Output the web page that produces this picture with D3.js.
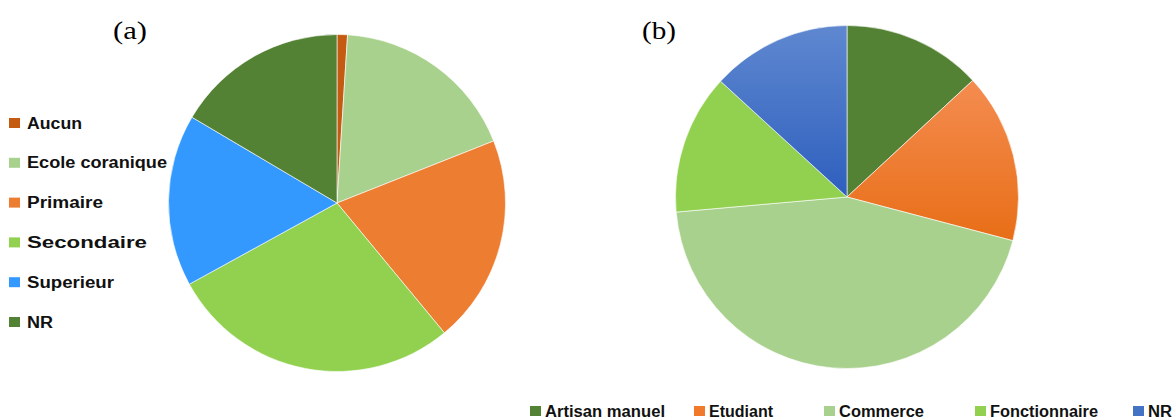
<!DOCTYPE html>
<html><head><meta charset="utf-8">
<script src="https://cdn.jsdelivr.net/npm/d3@7"></script>
<style>html,body{margin:0;padding:0;background:#fff;}svg{display:block;}</style>
</head><body>
<script>
// Data
const catsA = ["Aucun","Ecole coranique","Primaire","Secondaire","Superieur","NR"];
const valsA = [1, 18, 20, 28, 16.5, 16.5];
const colorsA = ["#C55A11","#A9D18E","#ED7D31","#92D050","#3399FF","#548235"];

const catsB = ["Artisan manuel","Etudiant","Commerce","Fonctionnaire","NR"];
const valsB = [13.1, 16, 44.5, 13.2, 13.2];
const colorsB = ["#548235","url(#gOrange)","#A9D18E","#92D050","url(#gBlue)"];
const legendColorsB = ["#548235","#F07A2A","#A9D18E","#92D050","#4472C4"];

const titles = ["(a)","(b)"];

const W = 1172, H = 419;
const svg = d3.select("body").append("svg").attr("width", W).attr("height", H);

const defs = svg.append("defs");
function grad(id, c1, c2){
  const g = defs.append("linearGradient").attr("id", id).attr("x1",0).attr("y1",0).attr("x2",0).attr("y2",1);
  g.append("stop").attr("offset","0%").attr("stop-color",c1);
  g.append("stop").attr("offset","100%").attr("stop-color",c2);
}
grad("gOrange","#F48C50","#E86E17");
grad("gBlue","#5F88D0","#2E5FBE");

const pie = d3.pie().sort(null).value(d => d);

function drawPie(vals, colors, cx, cy, r){
  const arc = d3.arc().innerRadius(0).outerRadius(r);
  const g = svg.append("g").attr("transform", `translate(${cx},${cy})`);
  g.selectAll("path").data(pie(vals)).join("path")
    .attr("d", arc)
    .attr("fill", (d,i) => colors[i])
    .attr("stroke", "#fff").attr("stroke-width", 0.6);
}
drawPie(valsA, colorsA, 337, 203, 168.5);
drawPie(valsB, colorsB, 847, 197, 171.5);

// Titles
svg.append("text").attr("x",113).attr("y",39).text(titles[0])
  .attr("font-family","Liberation Serif, Times New Roman, serif").attr("font-size",26)
  .attr("textLength",34).attr("lengthAdjust","spacingAndGlyphs").attr("fill","#000");
svg.append("text").attr("x",642).attr("y",39).text(titles[1])
  .attr("font-family","Liberation Serif, Times New Roman, serif").attr("font-size",26)
  .attr("textLength",34).attr("lengthAdjust","spacingAndGlyphs").attr("fill","#000");

// Legend A
const legA = svg.append("g");
const rowY = d3.scalePoint().domain(catsA).range([123, 322]);
const widthsA = [55, 140, 76, 120, 87, 26];
catsA.forEach((c,i) => {
  const y = rowY(c);
  legA.append("rect").attr("x",9).attr("y",y-5).attr("width",11).attr("height",10).attr("fill",colorsA[i]);
  legA.append("text").attr("x",27).attr("y",y+5.5).text(c)
    .attr("font-family","Liberation Sans, Arial, sans-serif").attr("font-weight","bold").attr("font-size",16)
    .attr("textLength", widthsA[i]).attr("lengthAdjust","spacingAndGlyphs").attr("fill","#111");
});

// Legend B
const legB = svg.append("g");
const sqX = [530, 694, 824, 975, 1133];
const widthsB = [120, 64, 85, 108, 24];
catsB.forEach((c,i) => {
  legB.append("rect").attr("x",sqX[i]).attr("y",406).attr("width",11).attr("height",10).attr("fill",legendColorsB[i]);
  legB.append("text").attr("x",sqX[i]+15).attr("y",417).text(c)
    .attr("font-family","Liberation Sans, Arial, sans-serif").attr("font-weight","bold").attr("font-size",16)
    .attr("textLength", widthsB[i]).attr("lengthAdjust","spacingAndGlyphs").attr("fill","#111");
});
</script>
</body></html>
